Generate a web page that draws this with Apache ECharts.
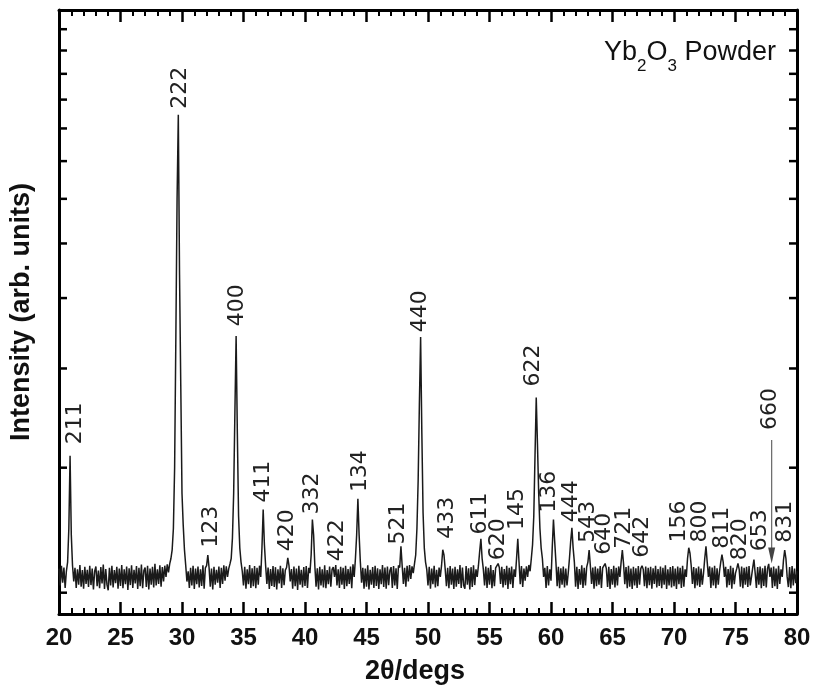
<!DOCTYPE html>
<html>
<head>
<meta charset="utf-8">
<script src="https://cdn.jsdelivr.net/npm/echarts@6/dist/echarts.min.js"></script>
<style>
html,body{margin:0;padding:0;background:#fff;}
#chart{width:815px;height:691px;}
</style>
</head>
<body>
<div id="chart"></div>
<script>
// ---- DATA ----
const scanStart = 20.0;   // 2θ of first sample (deg)
const scanStep = 0.1;     // 2θ step (deg)
// Intensity (arb. units), one row per degree (x.0 ... x.9)
const counts = [
/*20*/ 662,618,670,625,665,612,655,680,780,1050,
/*21*/ 760,670,628,664,612,660,620,672,615,658,
/*22*/ 610,667,622,659,614,670,619,662,608,655,
/*23*/ 668,616,657,611,666,623,673,609,661,620,
/*24*/ 606,664,618,670,613,658,624,667,610,662,
/*25*/ 617,672,611,660,621,668,607,663,619,671,
/*26*/ 612,659,623,669,609,664,616,673,611,657,
/*27*/ 665,614,670,608,662,620,667,613,675,618,
/*28*/ 660,622,671,615,666,628,670,640,674,652,
/*29*/ 675,690,715,780,1000,1700,3000,4230,2200,1400,
/*30*/ 900,790,715,672,628,655,612,664,618,670,
/*31*/ 609,662,621,668,613,660,617,671,610,664,
/*32*/ 670,700,665,615,662,608,667,620,659,625,
/*33*/ 668,612,664,622,671,630,668,640,662,675,
/*34*/ 690,750,900,1250,1712,1150,820,720,680,655,
/*35*/ 618,667,610,660,621,672,612,663,616,669,
/*36*/ 611,664,620,670,640,720,843,730,670,622,
/*37*/ 665,609,661,617,669,614,666,608,660,623,
/*38*/ 670,612,663,619,658,665,692,670,628,661,
/*39*/ 610,668,616,662,607,670,620,659,613,666,
/*40*/ 617,669,612,664,650,700,809,760,670,615,
/*41*/ 663,608,667,618,660,613,671,611,658,621,
/*42*/ 668,615,660,666,640,672,618,660,612,667,
/*43*/ 620,664,609,670,616,661,622,668,611,674,
/*44*/ 640,690,760,881,760,680,625,664,610,662,
/*45*/ 615,671,608,659,620,666,612,670,617,663,
/*46*/ 609,660,621,672,614,665,610,668,619,657,
/*47*/ 666,612,669,618,663,609,671,665,725,670,
/*48*/ 622,664,615,670,628,672,635,668,650,675,
/*49*/ 700,780,950,1300,1705,1150,830,720,680,660,
/*50*/ 618,667,610,662,621,670,613,659,616,665,
/*51*/ 640,670,715,700,660,616,664,611,669,620,
/*52*/ 662,609,667,615,660,622,672,612,665,618,
/*53*/ 610,669,620,663,608,666,614,671,619,660,
/*54*/ 640,670,710,748,690,660,618,668,612,664,
/*55*/ 620,672,611,658,616,664,668,676,665,622,
/*56*/ 667,613,661,619,670,609,664,621,668,612,
/*57*/ 660,640,690,748,680,621,669,614,662,630,
/*58*/ 668,640,672,655,690,730,820,1050,1332,1100,
/*59*/ 900,780,720,690,640,664,612,669,618,660,
/*60*/ 630,720,809,740,680,616,667,611,663,620,
/*61*/ 668,613,662,618,650,690,740,782,720,680,
/*62*/ 615,667,609,661,620,671,612,664,618,666,
/*63*/ 680,714,670,622,665,610,668,616,662,620,
/*64*/ 669,612,664,660,676,662,614,667,609,661,
/*65*/ 620,670,613,664,618,668,640,680,714,675,
/*66*/ 621,666,611,670,615,662,609,667,618,663,
/*67*/ 612,669,620,662,670,660,616,668,611,664,
/*68*/ 619,667,610,663,622,670,613,661,617,668,
/*69*/ 611,664,620,671,609,660,618,666,613,669,
/*70*/ 616,662,609,668,621,664,612,670,615,660,
/*71*/ 640,690,721,705,670,622,666,611,663,618,
/*72*/ 668,614,662,620,650,690,725,680,640,668,
/*73*/ 612,665,618,670,611,663,620,655,680,701,
/*74*/ 680,640,667,613,661,619,670,610,664,621,
/*75*/ 650,662,676,660,615,668,611,664,620,667,
/*76*/ 614,669,618,640,665,687,650,612,666,620,
/*77*/ 668,611,663,617,670,613,662,675,640,665,
/*78*/ 612,668,616,662,609,670,622,660,640,685,
/*79*/ 714,690,640,614,666,611,669,618,662,624,
/*80*/ 655
];

// Miller-index labels: text, label centre 2θ, intensity at the label's start
const peakLabels = ['211','222','123','400','411','420','332','422','134','521','440','433','611','620','145','622','136','444','543','640','721','642','156','800','811','820','653','660','831'];
const labelAngle = [21.31,29.83,32.34,34.52,36.57,38.6,40.62,42.61,44.5,47.55,49.35,51.54,54.21,55.7,57.28,58.55,59.9,61.65,63.0,64.35,65.94,67.43,70.45,72.15,73.9,75.41,77.0,77.81,79.02];
const labelBase  = [1100,4337,721,1783,867,711,826,682,905,731,1740,748,761,685,775,1393,832,800,736,701,718,692,737,737,718,685,711,1166,736];

// arrow for the 660 reflection
const arrowAngle = 77.94;
const arrowFrom = 1120;
const arrowTo = 676;

// axes
const xMin = 20, xMax = 80, xInterval = 5;
const yMin = 550, yMax = 6490;
const yTickValues = [600,1000,1500,2000,2500,3000,3500,4000,4500,5000,5500,6000];

// ---- CHART ----
const chart = echarts.init(document.getElementById('chart'), null, {renderer: 'canvas'});

const lineData = counts.map((v, i) => [+(scanStart + i * scanStep).toFixed(2), v]);
const labelData = peakLabels.map((t, i) => [labelAngle[i], labelBase[i], t]);
const tickData = yTickValues.map(v => [xMin, v]);

const axisFont = '"Liberation Sans", Arial, Helvetica, sans-serif';

function makeX(pos, showLabels) {
  return {
    type: 'value', min: xMin, max: xMax, interval: xInterval, position: pos,
    axisLine: {show: true, onZero: false, lineStyle: {color: '#000', width: 3}},
    axisTick: {show: true, inside: true, length: 12, lineStyle: {color: '#000', width: 2.5}},
    minorTick: {show: true, splitNumber: 5, length: 6, lineStyle: {color: '#000', width: 2}},
    splitLine: {show: false}, minorSplitLine: {show: false},
    axisLabel: {show: showLabels, color: '#111', fontSize: 24, fontWeight: 'bold', fontFamily: axisFont, margin: 12},
    name: showLabels ? '2θ/degs' : '', nameLocation: 'middle', nameGap: 44,
    nameTextStyle: {color: '#111', fontSize: 27, fontWeight: 'bold', fontFamily: axisFont, padding: [0, 26, 0, 0]}
  };
}
function makeY(pos, showName) {
  return {
    type: 'log', logBase: 10, min: yMin, max: yMax, position: pos,
    axisLine: {show: true, onZero: false, lineStyle: {color: '#000', width: 3}},
    axisTick: {show: false}, minorTick: {show: false},
    axisLabel: {show: false}, splitLine: {show: false}, minorSplitLine: {show: false},
    name: showName ? 'Intensity (arb. units)' : '', nameLocation: 'middle', nameGap: 24, nameRotate: 90,
    nameTextStyle: {color: '#111', fontSize: 27, fontWeight: 'bold', fontFamily: axisFont, padding: [0, 0, 0, 0]}
  };
}

// title with subscripts, built from measured text widths
function titleElements() {
  const big = 27, small = 17;
  const fam = '"Liberation Sans", Arial, sans-serif';
  const parts = [['Yb', big], ['2', small], ['O', big], ['3', small], [' Powder', big]];
  const ctx = document.createElement('canvas').getContext('2d');
  const widths = parts.map(p => { ctx.font = p[1] + 'px ' + fam; return ctx.measureText(p[0]).width; });
  const total = widths.reduce((a, b) => a + b, 0);
  const right = 776, baseMid = 52.6, subMid = 66;
  let x = right - total;
  return parts.map((p, i) => {
    const el = {
      type: 'text', x: x, y: p[1] === big ? baseMid : subMid, silent: true,
      style: {text: p[0], fill: '#111', font: p[1] + 'px ' + fam, align: 'left', verticalAlign: 'middle'}
    };
    x += widths[i];
    return el;
  });
}

const option = {
  animation: false,
  backgroundColor: '#fff',
  grid: {left: 56, right: 18, top: 10, bottom: 77, containLabel: false},
  xAxis: [makeX('bottom', true), makeX('top', false)],
  yAxis: [makeY('left', true), makeY('right', false)],
  graphic: titleElements(),
  series: [
    {
      type: 'line', data: lineData, xAxisIndex: 0, yAxisIndex: 0,
      showSymbol: false, symbol: 'none', clip: true,
      lineStyle: {color: '#1a1a1a', width: 1.5}, z: 3
    },
    {
      // inward ticks on left and right y axes
      type: 'custom', data: tickData, xAxisIndex: 0, yAxisIndex: 0, clip: false, silent: true, z: 5,
      renderItem: function (params, api) {
        const pl = api.coord([xMin, api.value(1)]);
        const pr = api.coord([xMax, api.value(1)]);
        return {type: 'group', children: [
          {type: 'line', shape: {x1: pl[0], y1: pl[1], x2: pl[0] + 8, y2: pl[1]}, style: {stroke: '#000', lineWidth: 2.5}},
          {type: 'line', shape: {x1: pr[0] - 8, y1: pr[1], x2: pr[0], y2: pr[1]}, style: {stroke: '#000', lineWidth: 2.5}}
        ]};
      }
    },
    {
      // rotated Miller-index labels
      type: 'custom', data: labelData, xAxisIndex: 0, yAxisIndex: 0, clip: false, silent: true, z: 6,
      dimensions: ['angle', 'base', 'hkl'],
      renderItem: function (params, api) {
        const p = api.coord([api.value(0), api.value(1)]);
        return {
          type: 'text', x: p[0], y: p[1], rotation: Math.PI / 2,
          style: {text: peakLabels[params.dataIndex], fill: '#222', font: '22px "DejaVu Sans", sans-serif', align: 'left', verticalAlign: 'middle'}
        };
      }
    },
    {
      // arrow to the 660 position
      type: 'custom', data: [[arrowAngle, arrowFrom, arrowTo]], xAxisIndex: 0, yAxisIndex: 0, clip: false, silent: true, z: 6,
      renderItem: function (params, api) {
        const a = api.coord([api.value(0), api.value(1)]);
        const b = api.coord([api.value(0), api.value(2)]);
        return {type: 'group', children: [
          {type: 'line', shape: {x1: a[0], y1: a[1], x2: b[0], y2: b[1] - 10}, style: {stroke: '#666', lineWidth: 1.2}},
          {type: 'polygon', shape: {points: [[b[0] - 3.5, b[1] - 16], [b[0] + 3.5, b[1] - 16], [b[0], b[1]]]}, style: {fill: '#444'}}
        ]};
      }
    }
  ]
};
chart.setOption(option);
</script>
</body>
</html>
